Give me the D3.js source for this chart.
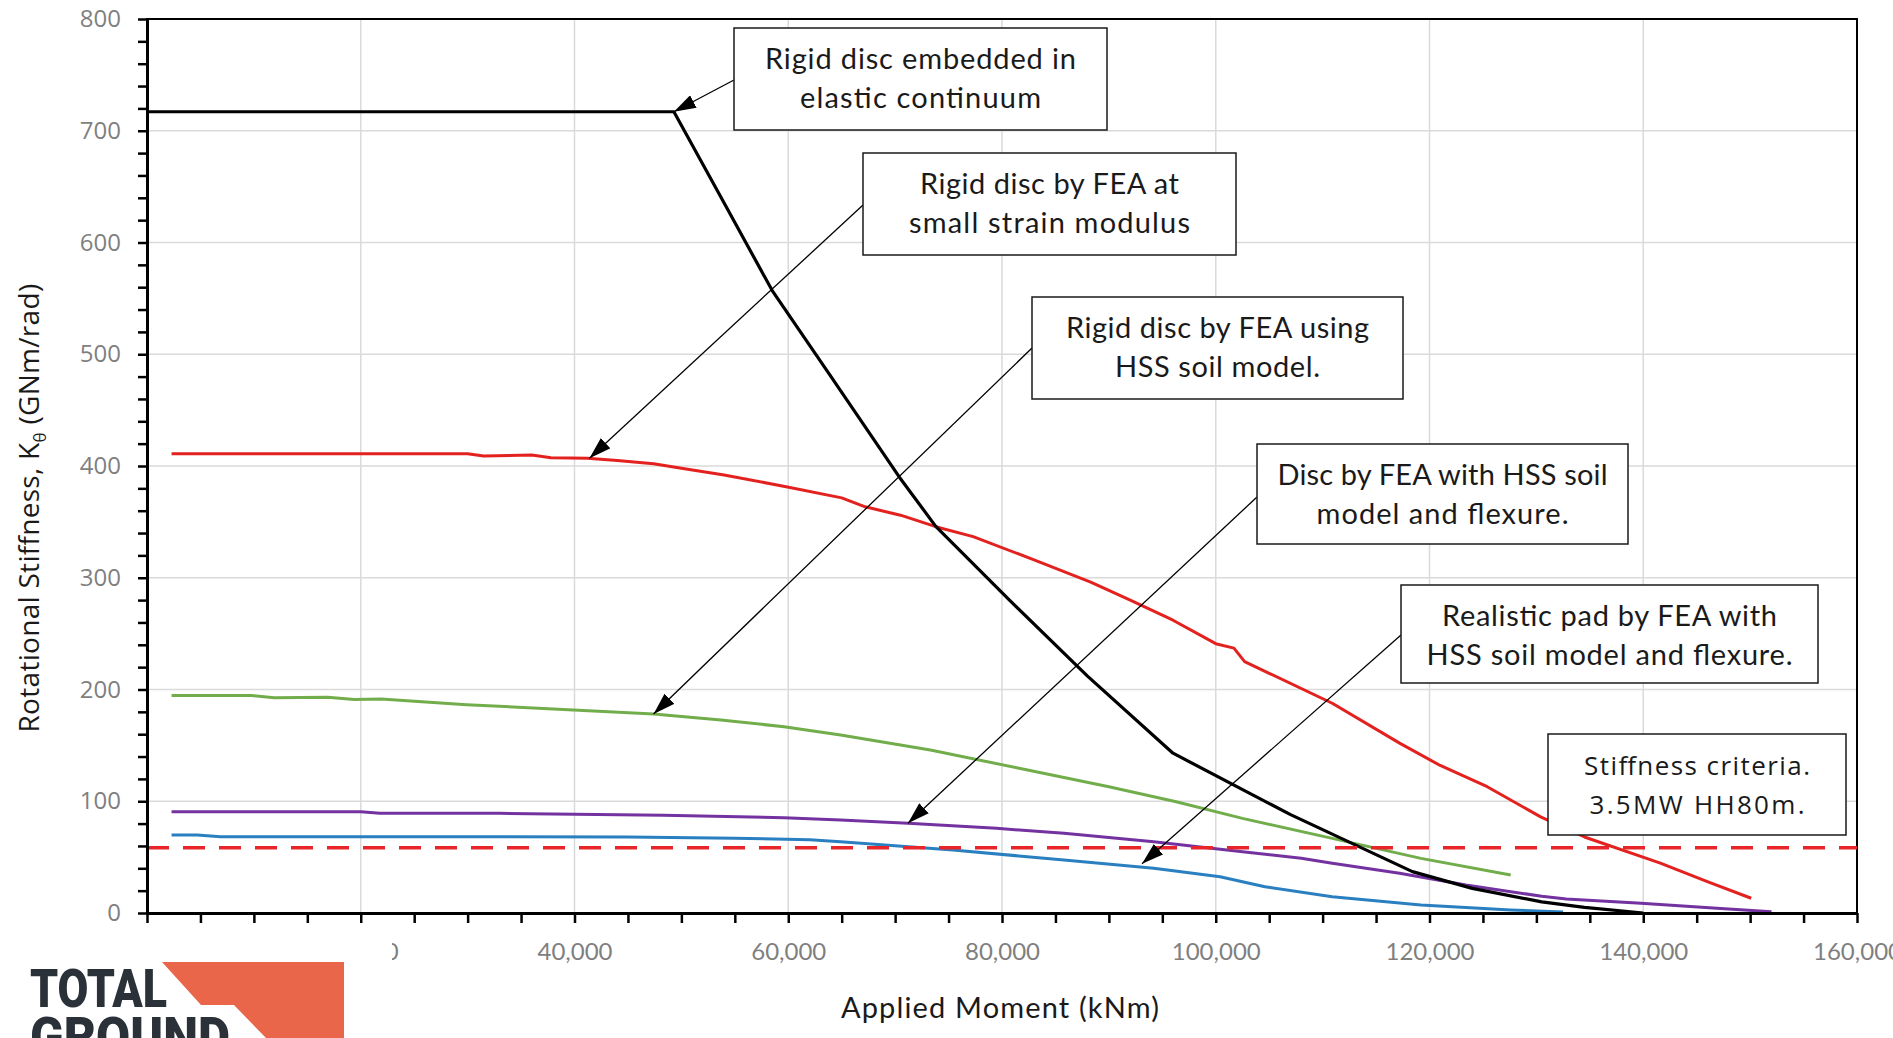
<!DOCTYPE html>
<html>
<head>
<meta charset="utf-8">
<script src="https://cdn.jsdelivr.net/npm/d3@7"></script>
<style>
  body { margin: 0; background: #fff; }
</style>
</head>
<body>
<div id="chart"></div>
<script>
/* Rotational stiffness vs applied moment */

// values (x in kNm, y in GNm/rad)
const blackX = [0, 49300, 53500, 58500, 64000, 70400, 73800, 80700, 88000, 96000, 107000, 118400, 124000, 130500, 134500, 140000];
const blackY = [717, 717, 644, 557, 480, 390, 346, 280, 212, 143, 88, 37, 22, 10, 5, 0];

const redX = [2300, 12000, 22000, 30000, 31500, 36000, 37800, 41200, 44000, 47400, 50000, 54000, 59800, 65000, 67200, 70500, 73800, 77300, 83000, 88300, 92000, 96000, 100000, 101700, 102700, 105000, 110900, 117200, 121000, 125400, 130400, 134500, 141600, 146000, 150100];
const redY = [411, 411, 411, 411, 409, 409.8, 407.4, 407, 405, 402, 398, 392, 381.5, 371.5, 363.5, 356, 345.7, 336.8, 316, 296, 280, 262, 241, 237, 225, 214.5, 187.7, 152, 132, 113, 86, 68, 44.6, 28, 13.2];

const greenX = [2300, 9800, 11900, 16900, 19400, 21900, 29900, 39900, 47400, 53700, 59600, 64900, 73300, 81600, 90000, 96300, 102500, 110900, 119200, 127600];
const greenY = [194.6, 194.6, 192.6, 193, 191, 191.5, 186.4, 181.7, 178.1, 172.7, 166.7, 159.3, 145.9, 129.5, 113, 99.6, 84.7, 66.8, 48.9, 34];

const purpleX = [2300, 20000, 21800, 33000, 48300, 59600, 64900, 71200, 79500, 85800, 94200, 102500, 108000, 110900, 117200, 123400, 130500, 132800, 139800, 146900, 152000];
const purpleY = [90.6, 90.6, 89.2, 89.2, 87.5, 85.3, 83.2, 80.3, 75.8, 71.3, 63.8, 54.9, 48.9, 44.5, 35.5, 25, 15, 12.5, 8.7, 4.2, 1.2];

const blueX = [2300, 4700, 6900, 33000, 45000, 55000, 62000, 64900, 75400, 85800, 94200, 100400, 104600, 110900, 119200, 127600, 132500];
const blueY = [69.8, 69.8, 68.3, 68.3, 68, 67, 65.5, 63.8, 56.4, 47.4, 40, 32.5, 23.5, 14.6, 7.2, 2.7, 1];

const criterion = 58.4;

const xTicks = [0, 20000, 40000, 60000, 80000, 100000, 120000, 140000, 160000];
const yTicks = [0, 100, 200, 300, 400, 500, 600, 700, 800];

// callouts: text lines + their widths, box (px), arrow start (px), arrow tip (data)
const notes = [
  {lines: ["Rigid disc embedded in", "elastic continuum"], lens: [311, 241], box: [734, 28, 373, 102], from: [734, 80], tip: [49300, 717]},
  {lines: ["Rigid disc by FEA at", "small strain modulus"], lens: [259, 281], box: [863, 153, 373, 102], from: [863, 205], tip: [41400, 407]},
  {lines: ["Rigid disc by FEA using", "HSS soil model."], lens: [303, 205], box: [1032, 297, 371, 102], from: [1032, 348], tip: [47400, 178]},
  {lines: ["Disc by FEA with HSS soil", "model and flexure."], lens: [330, 252], box: [1257, 444, 371, 100], from: [1257, 497], tip: [71200, 80.3]},
  {lines: ["Realistic pad by FEA with", "HSS soil model and flexure."], lens: [335, 366], box: [1401, 585, 417, 98], from: [1401, 635], tip: [93100, 44]},
  {lines: ["Stiffness criteria.", "3.5MW HH80m."], lens: [226, 215], box: [1548, 734, 298, 101], from: null, tip: null, sans: true}
];

const width = 1893,
    height = 1038,
    margin = ({top: 19, right: 36, bottom: 125, left: 147});

const svg = d3.select("#chart")
    .append("svg")
    .attr("width", width)
    .attr("height", height);

const x = d3.scaleLinear()
    .domain([0, 160000])
    .range([margin.left, width - margin.right]);

const y = d3.scaleLinear()
    .domain([0, 800])
    .range([height - margin.bottom, margin.top]);

// gridlines
svg.append("g")
    .selectAll("line")
    .data(xTicks.slice(1, -1))
    .join("line")
    .attr("x1", d => x(d)).attr("x2", d => x(d))
    .attr("y1", y(0)).attr("y2", y(800))
    .attr("stroke", "#dadada").attr("stroke-width", 1.5);

svg.append("g")
    .selectAll("line")
    .data(yTicks.slice(1, -1))
    .join("line")
    .attr("x1", x(0)).attr("x2", x(160000))
    .attr("y1", d => y(d)).attr("y2", d => y(d))
    .attr("stroke", "#dadada").attr("stroke-width", 1.5);

// plot frame
svg.append("rect")
    .attr("x", x(0)).attr("y", y(800))
    .attr("width", x(160000) - x(0)).attr("height", y(0) - y(800))
    .attr("fill", "none").attr("stroke", "#000").attr("stroke-width", 2);

// series
const line = d3.line().x(d => x(d[0])).y(d => y(d[1]));

const series = [
  {xs: blueX, ys: blueY, color: "#2a7fc0", w: 3},
  {xs: purpleX, ys: purpleY, color: "#7432a0", w: 3},
  {xs: greenX, ys: greenY, color: "#72ad4c", w: 3},
  {xs: redX, ys: redY, color: "#e3211f", w: 3},
  {xs: blackX, ys: blackY, color: "#000", w: 3.2}
];

svg.append("g")
    .selectAll("path")
    .data(series)
    .join("path")
    .attr("d", s => line(d3.zip(s.xs, s.ys)))
    .attr("fill", "none")
    .attr("stroke", s => s.color)
    .attr("stroke-width", s => s.w)
    .attr("stroke-linejoin", "round");

// stiffness criterion
svg.append("line")
    .attr("x1", x(0)).attr("x2", x(160000))
    .attr("y1", y(criterion)).attr("y2", y(criterion))
    .attr("stroke", "#e8262a")
    .attr("stroke-width", 3.5)
    .attr("stroke-dasharray", "22,14");

// axes
const xAxis = g => g
    .attr("transform", `translate(0,${y(0)})`)
    .call(d3.axisBottom(x)
        .tickValues(d3.range(0, 160001, 5000))
        .tickSize(10).tickSizeOuter(0).tickPadding(20)
        .tickFormat(d => d % 20000 === 0 ? d3.format(",")(d) : ""))
    .call(g => g.select(".domain").attr("stroke-width", 3))
    .call(g => g.selectAll(".tick line").attr("stroke-width", 2.5))
    .call(g => g.selectAll("text")
        .attr("font-family", "Lato").attr("font-size", 24).attr("fill", "#7f7f7f"));

const yAxis = g => g
    .attr("transform", `translate(${x(0)},0)`)
    .call(d3.axisLeft(y)
        .tickValues(d3.range(0, 801, 20))
        .tickSize(9).tickSizeOuter(0).tickPadding(17)
        .tickFormat(d => d % 100 === 0 ? d : ""))
    .call(g => g.select(".domain").attr("stroke-width", 3))
    .call(g => g.selectAll(".tick line").attr("stroke-width", 2.5))
    .call(g => g.selectAll("text")
        .attr("font-family", "Open Sans").attr("font-size", 24).attr("fill", "#7f7f7f"));

svg.append("g").call(xAxis);
svg.append("g").call(yAxis);

// axis titles
svg.append("text")
    .attr("x", 1000).attr("y", 1018)
    .attr("text-anchor", "middle")
    .attr("font-family", "Lato").attr("font-size", 29)
    .attr("textLength", 318).attr("lengthAdjust", "spacing")
    .attr("fill", "#1a1a1a")
    .text("Applied Moment (kNm)");

const yTitle = svg.append("text")
    .attr("transform", "translate(39,508) rotate(-90)")
    .attr("text-anchor", "middle")
    .attr("font-family", "Open Sans").attr("font-size", 28)
    .attr("letter-spacing", 0.3)
    .attr("fill", "#1a1a1a");
yTitle.append("tspan").text("Rotational Stiffness, K");
yTitle.append("tspan").attr("font-size", 17).attr("dy", 7).text("θ");
yTitle.append("tspan").attr("dy", -7).text(" (GNm/rad)");

// callouts
svg.append("defs").append("marker")
    .attr("id", "head")
    .attr("viewBox", "0 0 22 14")
    .attr("refX", 22).attr("refY", 7)
    .attr("markerWidth", 22).attr("markerHeight", 14)
    .attr("markerUnits", "userSpaceOnUse")
    .attr("orient", "auto")
    .append("path")
    .attr("d", "M0,0L22,7L0,14Z")
    .attr("fill", "#000");

const arrows = notes.filter(n => n.tip);
svg.append("g")
    .selectAll("line")
    .data(arrows)
    .join("line")
    .attr("x1", n => n.from[0]).attr("y1", n => n.from[1])
    .attr("x2", n => x(n.tip[0])).attr("y2", n => y(n.tip[1]))
    .attr("stroke", "#000").attr("stroke-width", 1.3)
    .attr("marker-end", "url(#head)");

const note = svg.append("g")
    .selectAll("g")
    .data(notes)
    .join("g");

note.append("rect")
    .attr("x", n => n.box[0]).attr("y", n => n.box[1])
    .attr("width", n => n.box[2]).attr("height", n => n.box[3])
    .attr("fill", "#fff").attr("stroke", "#1a1a1a").attr("stroke-width", 1.5);

note.append("g")
    .attr("font-family", n => n.sans ? "Open Sans" : "Lato")
    .attr("font-size", n => n.sans ? 26 : 29)
    .attr("fill", "#1a1a1a")
    .selectAll("text")
    .data(n => n.lines.map((t, i) => ({t, i, n})))
    .join("text")
    .attr("text-anchor", "middle")
    .attr("x", d => d.n.box[0] + d.n.box[2] / 2)
    .attr("y", d => d.n.box[1] + 41 + d.i * 39)
    .attr("textLength", d => d.n.lens[d.i])
    .attr("lengthAdjust", "spacing")
    .text(d => d.t);

// logo in the lower left corner
const logo = svg.append("g");
logo.append("rect")
    .attr("x", 0).attr("y", 926).attr("width", 392).attr("height", 112)
    .attr("fill", "#fff");
logo.append("path")
    .attr("d", "M162,962L344,962L344,1038L266,1038L234,1005L201,1005Z")
    .attr("fill", "#e9664b");
logo.append("text")
    .attr("x", 30).attr("y", 1007)
    .attr("font-family", "Roboto").attr("font-weight", 900).attr("font-size", 54)
    .attr("textLength", 137).attr("lengthAdjust", "spacingAndGlyphs")
    .attr("fill", "#2b3139")
    .text("TOTAL");
logo.append("text")
    .attr("x", 30).attr("y", 1055)
    .attr("font-family", "Roboto").attr("font-weight", 900).attr("font-size", 54)
    .attr("textLength", 200).attr("lengthAdjust", "spacingAndGlyphs")
    .attr("fill", "#2b3139")
    .text("GROUND");
</script>
</body>
</html>
